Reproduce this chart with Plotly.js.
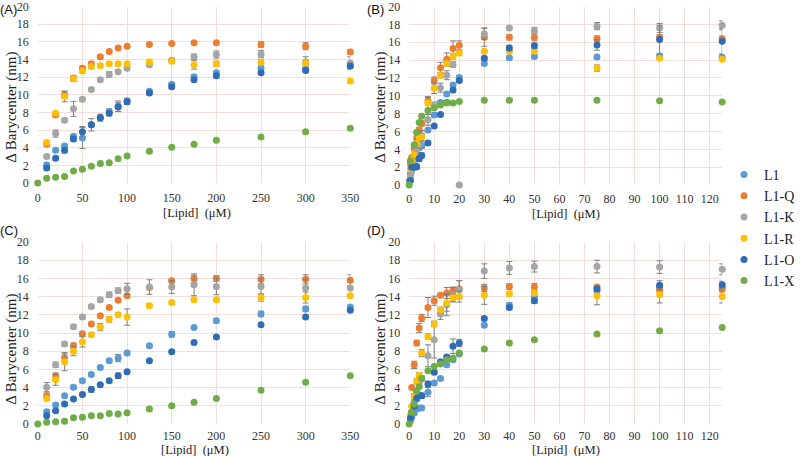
<!DOCTYPE html>
<html>
<head>
<meta charset="utf-8">
<script src="https://cdn.plot.ly/plotly-3.0.1.min.js"></script>
<style>html,body{margin:0;padding:0;background:#fff;}#chart{width:800px;height:456px;}</style>
</head>
<body>
<div id="chart"></div>
<script>
// ---------- series names & colours ----------
const seriesNames = ["L1", "L1-Q", "L1-K", "L1-R", "L1-O", "L1-X"];
const seriesColors = ["#5B9BD5", "#ED7D31", "#A5A5A5", "#FFC000", "#2E6DB5", "#70AD47"];

// ---------- Panel A ----------
const xA  = [10,20,30,40,50,60,70,80,90,100,125,150,175,200,250,300,350];
const xA0 = [0,10,20,30,40,50,60,70,80,90,100,125,150,175,200,250,300,350];
const A_L1   = [2.05,3.7,4.2,5.3,5.1,6.6,7.4,8.1,8.7,9.3,10.4,11.2,12.05,12.5,13.0,12.9,13.3];
const A_L1e  = [0.2,0.2,0.2,0.2,1.2,0.2,0.2,0.3,0.6,0.3,0.2,0.2,0.2,0.2,0.2,0.2,0.2];
const A_L1Q  = [4.4,7.7,10.0,11.9,13.0,13.5,14.3,14.9,15.3,15.5,15.7,15.8,15.9,15.9,15.7,15.5,14.85];
const A_L1Qe = [0.2,0.2,0.4,0.2,0.2,0.2,0.2,0.2,0.2,0.1,0.1,0.1,0.1,0.1,0.3,0.4,0.2];
const A_L1K  = [3.0,5.6,7.1,8.4,9.5,10.6,11.7,12.3,12.6,13.0,13.4,13.9,14.3,14.55,14.6,13.7,13.6];
const A_L1Ke = [0.2,0.4,0.2,0.85,0.2,0.2,0.2,0.3,0.2,0.2,0.2,0.2,0.3,0.4,0.4,0.6,0.7];
const A_L1R  = [4.6,7.9,9.8,11.8,12.7,13.2,13.3,13.5,13.5,13.5,13.7,13.8,13.4,13.5,13.65,13.6,11.55];
const A_L1Re = [0.2,0.2,0.6,0.3,0.2,0.2,0.2,0.2,0.2,0.2,0.2,0.2,0.5,0.3,0.3,0.3,0.2];
const A_L1O  = [1.7,2.8,3.7,5.0,5.8,6.6,7.4,7.9,8.6,9.2,10.2,10.9,11.7,12.15,12.5,12.75,13.25];
const A_L1Oe = [0.2,0.2,0.3,0.3,0.6,0.7,0.4,0.3,0.5,0.3,0.2,0.2,0.2,0.2,0.2,0.2,0.3];
const A_L1X  = [0,0.55,0.65,0.75,1.35,1.55,1.9,2.2,2.3,2.75,3.05,3.6,4.05,4.4,4.85,5.2,5.8,6.2];
const A_L1Xe = [0,0.1,0.1,0.1,0.1,0.1,0.1,0.1,0.1,0.1,0.1,0.1,0.1,0.1,0.1,0.1,0.1,0.1];

// ---------- Panel B ----------
const xB  = [0.5,1,2,3,4,5,7.5,10,12.5,15,17.5,20,30,40,50,75,100,125];
const xBK = [0,0.5,1,2,3,4,5,7.5,10,12.5,15,17.5,20,30,40,50,75,100,125];
const xBX = [0,0.5,2,3,4,5,7.5,10,12.5,15,17.5,20,30,40,50,75,100,125];
const B_L1   = [1.3,2.2,3.0,3.7,4.2,4.4,6.15,7.85,9.25,10.2,11.2,12.05,13.6,14.25,14.4,14.35,14.45,14.3];
const B_L1e  = [0.2,0.2,0.3,0.3,0.3,0.3,0.2,0.2,0.2,0.2,0.2,0.2,0.2,0.2,0.2,0.2,0.2,0.2];
const B_L1Q  = [2.4,3.1,4.2,5.3,6.15,6.9,9.4,11.7,13.15,14.1,15.3,15.65,16.55,16.55,16.55,16.4,16.55,16.4];
const B_L1Qe = [0.2,0.2,0.3,0.3,0.3,0.3,0.5,0.4,0.6,0.7,0.85,0.5,1.0,0.3,0.4,0.3,0.3,0.3];
const B_L1K  = [0.5,1.0,1.6,2.5,3.9,4.6,5.5,7.3,8.9,10.9,12.3,13.5,0,16.95,17.6,17.3,17.8,17.6,17.9];
const B_L1Ke = [0.1,0.2,0.3,0.4,0.6,0.5,0.6,0.6,0.4,0.5,0.5,0.3,0,0.65,0.2,0.35,0.4,0.5,0.5];
const B_L1R  = [1.85,2.75,3.4,4.65,5.35,5.4,9.2,10.85,12.3,13.6,14.4,14.8,15.0,15.0,15.0,13.1,14.2,14.1];
const B_L1Re = [0.2,0.3,0.3,0.5,0.6,0.4,0.6,0.6,0.3,0.3,0.3,0.3,0.1,0.1,0.1,0.35,0.1,0.1];
const B_L1O  = [0.5,2.0,2.0,2.05,2.95,3.3,4.7,6.6,7.9,9.25,10.65,11.7,14.2,15.35,15.6,15.7,16.3,16.1];
const B_L1Oe = [0.1,0.2,0.3,0.3,0.3,0.3,0.2,0.2,0.2,0.2,0.2,0.2,0.2,0.3,0.3,0.6,1.6,1.4];
const B_L1X  = [0,2.7,4.5,5.9,7.0,7.7,8.35,8.65,8.95,9.2,9.2,9.35,9.5,9.5,9.5,9.5,9.45,9.3];
const B_L1Xe = [0,0.1,0.1,0.1,0.1,0.1,0.1,0.1,0.1,0.1,0.1,0.1,0.1,0.1,0.1,0.1,0.1,0.1];

// ---------- Panel C ----------
const xC  = [10,20,30,40,50,60,70,80,90,100,125,150,175,200,250,300,350];
const xC0 = [0,10,20,30,40,50,60,70,80,90,100,125,150,175,200,250,300,350];
const C_L1   = [1.35,2.1,3.1,4.05,4.75,5.45,6.2,6.95,7.25,7.8,8.6,9.85,10.6,11.35,12.1,12.65,12.85];
const C_L1e  = [0.2,0.2,0.2,0.2,0.2,0.2,0.2,0.2,0.4,0.2,0.2,0.3,0.2,0.2,0.3,0.3,0.2];
const C_L1Q  = [3.1,5.3,7.3,8.6,9.9,11.0,11.9,12.8,13.6,14.1,15.0,15.75,15.95,16.0,15.9,15.9,15.8];
const C_L1Qe = [0.3,0.3,0.4,0.3,0.3,0.2,0.2,0.2,0.2,0.2,0.2,0.2,0.4,0.3,0.5,0.5,0.6];
const C_L1K  = [4.05,6.5,8.8,10.7,11.75,12.9,13.65,14.2,14.65,14.85,15.05,15.05,15.3,15.1,15.1,14.95,14.95];
const C_L1Ke = [0.5,0.3,0.2,0.2,0.2,0.2,0.2,0.3,0.3,0.6,0.8,0.7,1.2,0.9,0.9,1.0,1.0];
const C_L1R  = [2.8,4.85,6.85,8.0,9.05,9.8,10.65,11.5,12.0,11.75,13.0,13.35,13.65,13.65,13.9,13.9,14.1];
const C_L1Re = [0.2,0.6,1.0,0.5,0.6,0.2,0.4,0.3,0.2,0.9,0.2,0.2,0.2,0.2,0.4,0.6,0.2];
const C_L1O  = [0.9,1.45,2.2,2.75,3.25,3.8,4.3,4.75,5.3,5.75,6.95,7.95,8.95,9.55,10.9,11.75,12.5];
const C_L1Oe = [0.1,0.1,0.1,0.1,0.1,0.3,0.1,0.1,0.3,0.1,0.1,0.1,0.1,0.1,0.1,0.1,0.1];
const C_L1X  = [0,0.2,0.25,0.3,0.7,0.75,0.9,0.9,1.15,1.1,1.25,1.65,2.0,2.4,2.8,3.7,4.6,5.3];
const C_L1Xe = [0,0.1,0.1,0.2,0.1,0.1,0.1,0.1,0.1,0.1,0.1,0.1,0.1,0.1,0.1,0.1,0.1,0.1];

// ---------- Panel D ----------
const xD  = [0.5,1,2,3,4,5,7.5,10,12.5,15,17.5,20,30,40,50,75,100,125];
const xDQ = [1,2,3,4,5,7.5,10,12.5,15,17.5,20,30,40,50,75,100,125];
const xDX = [0,1,2,3,4,5,7.5,10,12.5,15,17.5,20,30,40,50,75,100,125];
const D_L1   = [0.35,0.75,1.2,1.65,1.75,1.75,3.5,4.5,5.0,6.5,7.05,7.7,10.85,13.05,13.9,14.65,14.95,15.0];
const D_L1e  = [0.1,0.1,0.2,0.2,0.2,0.2,0.5,0.2,0.2,0.2,0.2,0.2,0.2,0.3,0.3,0.3,0.3,0.3];
const D_L1Q  = [4.0,6.5,8.9,10.55,11.65,12.8,13.55,14.15,14.4,14.65,14.85,14.95,15.1,15.05,15.05,14.75,14.8];
const D_L1Qe = [0.2,0.4,0.3,0.5,0.4,1.1,0.5,0.2,0.6,0.4,0.9,0.4,0.3,0.4,0.2,0.3,0.3];
const D_L1K  = [0.5,1.2,2.5,3.5,4.6,5.0,7.5,9.25,12.1,13.1,14.2,14.75,16.8,17.15,17.3,17.3,17.25,17.0];
const D_L1Ke = [0.2,0.3,0.5,0.4,0.5,0.3,1.2,2.0,0.6,1.2,0.8,1.0,0.8,0.7,0.6,0.7,0.7,0.6];
const D_L1R  = [1.0,1.95,3.05,4.7,5.35,7.8,9.6,11.0,12.55,13.3,13.9,14.0,14.15,14.3,14.4,14.1,14.2,14.0];
const D_L1Re = [0.2,0.2,0.3,0.3,0.3,0.4,0.3,0.3,0.3,0.9,0.4,0.6,1.0,0.2,0.2,1.0,0.9,0.7];
const D_L1O  = [0.65,1.3,1.95,2.8,3.15,3.1,4.4,5.7,6.8,7.35,8.55,8.9,11.6,12.8,13.55,14.85,15.25,15.3];
const D_L1Oe = [0.1,0.2,0.3,0.3,0.3,0.3,0.3,0.2,0.3,0.2,0.8,0.4,0.2,0.2,0.3,0.3,0.5,0.4];
const D_L1X  = [0,1.3,2.2,3.6,4.1,5.0,5.85,6.35,6.6,7.05,7.25,7.8,8.25,8.9,9.25,9.9,10.25,10.6];
const D_L1Xe = [0,0.1,0.1,0.1,0.1,0.1,0.1,0.1,0.1,0.1,0.1,0.1,0.1,0.1,0.1,0.1,0.1,0.1];

// ---------- axis tick settings ----------
const yTicks = [0,2,4,6,8,10,12,14,16,18,20];
const xTicksWide = [0,50,100,150,200,250,300,350];
const xTicksNarrow = [0,10,20,30,40,50,60,70,80,90,100,110,120];

const panels = [
  {xa:'x',  ya:'y',  data:[[xA,A_L1,A_L1e],[xA,A_L1Q,A_L1Qe],[xA,A_L1K,A_L1Ke],[xA,A_L1R,A_L1Re],[xA,A_L1O,A_L1Oe],[xA0,A_L1X,A_L1Xe]], legend:true},
  {xa:'x2', ya:'y2', data:[[xB,B_L1,B_L1e],[xB,B_L1Q,B_L1Qe],[xBK,B_L1K,B_L1Ke],[xB,B_L1R,B_L1Re],[xB,B_L1O,B_L1Oe],[xBX,B_L1X,B_L1Xe]], legend:false},
  {xa:'x3', ya:'y3', data:[[xC,C_L1,C_L1e],[xC,C_L1Q,C_L1Qe],[xC,C_L1K,C_L1Ke],[xC,C_L1R,C_L1Re],[xC,C_L1O,C_L1Oe],[xC0,C_L1X,C_L1Xe]], legend:false},
  {xa:'x4', ya:'y4', data:[[xD,D_L1,D_L1e],[xDQ,D_L1Q,D_L1Qe],[xD,D_L1K,D_L1Ke],[xD,D_L1R,D_L1Re],[xD,D_L1O,D_L1Oe],[xDX,D_L1X,D_L1Xe]], legend:false}
];

const traces = [];
panels.forEach(p => {
  p.data.forEach((d, i) => {
    traces.push({
      type:'scatter', mode:'markers',
      x:d[0], y:d[1], xaxis:p.xa, yaxis:p.ya,
      name:seriesNames[i], legendgroup:seriesNames[i], showlegend:p.legend,
      marker:{color:seriesColors[i], size:7, line:{width:0}},
      error_y:{type:'data', array:d[2], visible:true, color:'#808080', thickness:1, width:3},
      cliponaxis:false, hoverinfo:'skip'
    });
  });
});

const W = 800, H = 456;
const px = v => v / W;
const py = v => 1 - v / H;

const gridCol = '#f3deda';
const tickFont = {family:'Liberation Serif, Times New Roman, serif', size:12, color:'#333'};
function xAx(range, ticks, dom, anchor, standoff){
  return {domain:dom, range:range, tickvals:ticks, ticktext:ticks.map(String), anchor:anchor,
    showgrid:true, gridcolor:gridCol, gridwidth:1, zeroline:false, showline:false, ticks:'',
    tickfont:tickFont, ticklabelstandoff:standoff, ticklabeloverflow:'allow', fixedrange:true};
}
function yAx(dom, anchor){
  return {domain:dom, range:[0,20], tickvals:yTicks, ticktext:yTicks.map(String), anchor:anchor,
    showgrid:true, gridcolor:gridCol, gridwidth:1, zeroline:false, showline:false, ticks:'',
    tickfont:tickFont, ticklabelstandoff:8, ticklabeloverflow:'allow', fixedrange:true};
}

const domXL = [px(38.5), px(357)];
const domXR = [px(417), px(736)];
const domYA = [py(183), py(6.5)];
const domYB = [py(185), py(6.5)];
const domYC = [py(424), py(242)];

const serif = 'Liberation Serif, Times New Roman, serif';
const ann = [];
function panelLabel(t, x, y){
  ann.push({text:t, xref:'paper', yref:'paper', x:px(x), y:py(y), xanchor:'left', yanchor:'middle',
    showarrow:false, font:{family:'Liberation Sans, Arial, sans-serif', size:13, color:'#111'}});
}
panelLabel('(A)', -2, 10);
panelLabel('(B)', 372, 10);
panelLabel('(C)', -2, 231);
panelLabel('(D)', 372, 231);
function yTitle(x, y){
  ann.push({text:'Δ Barycenter (nm)', xref:'paper', yref:'paper', x:px(x), y:py(y), xanchor:'center', yanchor:'middle',
    textangle:-90, showarrow:false, font:{family:serif, size:15, color:'#222'}});
}
yTitle(11, 107); yTitle(387, 107); yTitle(11, 349); yTitle(387, 349);
function xTitle(x, y){
  ann.push({text:'[Lipid]  (μM)', xref:'paper', yref:'paper', x:px(x), y:py(y), xanchor:'center', yanchor:'middle',
    showarrow:false, font:{family:serif, size:12.5, color:'#222'}});
}
xTitle(201, 213); xTitle(577, 214); xTitle(199, 449.5); xTitle(577, 449.5);

const layout = {
  width:W, height:H, margin:{l:0, r:0, t:0, b:0},
  paper_bgcolor:'#ffffff', plot_bgcolor:'#ffffff',
  showlegend:true,
  legend:{x:px(738), xanchor:'left', y:0.5, yanchor:'middle', bgcolor:'rgba(0,0,0,0)',
    font:{family:serif, size:14, color:'#222'}, tracegroupgap:0},
  xaxis: xAx([0,350], xTicksWide, domXL, 'y', 6),
  yaxis: yAx(domYA, 'x'),
  xaxis2: xAx([0,125], xTicksNarrow, domXR, 'y2', 5),
  yaxis2: yAx(domYB, 'x2'),
  xaxis3: xAx([0,350], xTicksWide, domXL, 'y3', 3),
  yaxis3: yAx(domYC, 'x3'),
  xaxis4: xAx([0,125], xTicksNarrow, domXR, 'y4', 3),
  yaxis4: yAx(domYC, 'x4'),
  annotations: ann
};

Plotly.newPlot('chart', traces, layout, {staticPlot:true, displayModeBar:false});
</script>
</body>
</html>
